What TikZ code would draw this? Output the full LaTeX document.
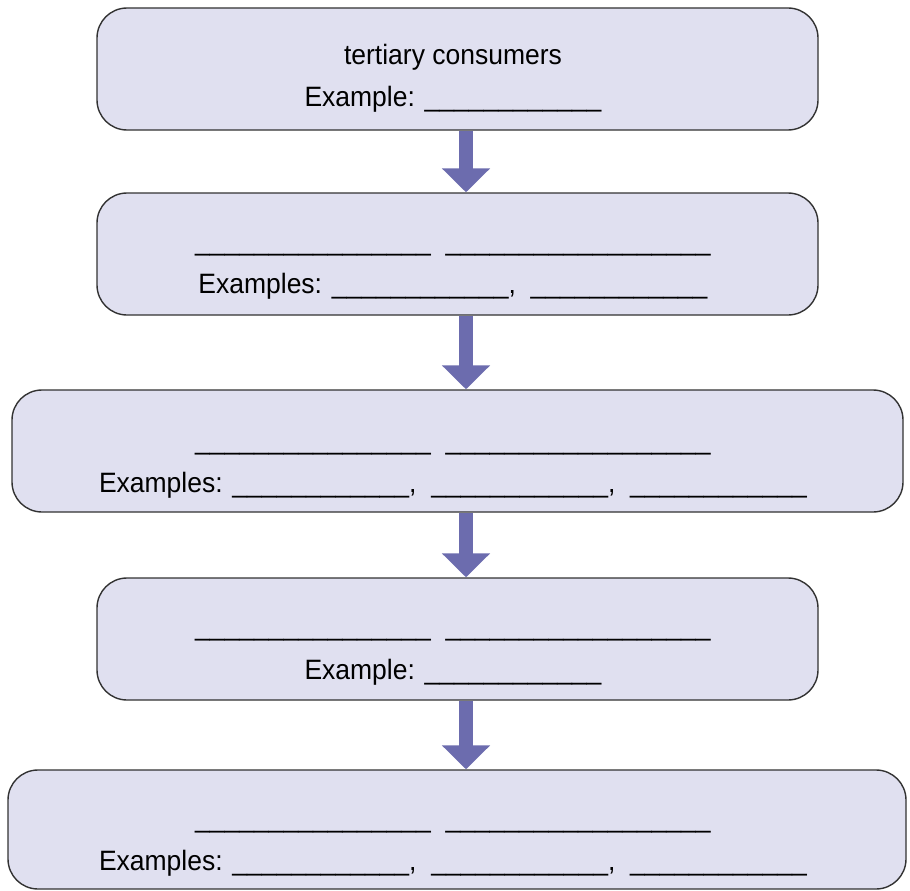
\documentclass[tikz,border=0pt]{standalone}
\usepackage{fontspec}
\setmainfont{Liberation Sans}[FakeStretch=0.946]
\usetikzlibrary{arrows.meta}
\definecolor{boxfill}{RGB}{224,224,240}
\definecolor{boxline}{RGB}{50,50,50}
\definecolor{arrowc}{RGB}{108,108,174}
\newcommand{\blankN}[1]{\foreach \i in {1,...,#1}{\_}}
\begin{document}
\begin{tikzpicture}[x=1pt,y=-1pt,
  stagebox/.style={draw=boxline,line width=1.4pt,fill=boxfill,rounded corners=30pt,inner sep=0pt},
  lbl/.style={anchor=base,inner sep=0pt,font=\fontsize{28}{32}\selectfont},
  flowarrow/.style={draw=arrowc,line width=14pt,-{Triangle[width=47pt,length=24pt]}}]
\useasboundingbox (0,0) rectangle (910,891);
% boxes
\node[stagebox,minimum width=721pt,minimum height=122pt] (b1) at (457.5,69) {};
\node[stagebox,minimum width=721pt,minimum height=122pt] (b2) at (457.5,254) {};
\node[stagebox,minimum width=891pt,minimum height=122pt] (b3) at (457.5,451) {};
\node[stagebox,minimum width=721pt,minimum height=122pt] (b4) at (457.5,639) {};
\node[stagebox,minimum width=898pt,minimum height=119pt] (b5) at (457,829.5) {};
% arrows
\coordinate (ax) at (466,0);
\draw[flowarrow] (b1.south -| ax) -- (b2.north -| ax);
\draw[flowarrow] (b2.south -| ax) -- (b3.north -| ax);
\draw[flowarrow] (b3.south -| ax) -- (b4.north -| ax);
\draw[flowarrow] (b4.south -| ax) -- (b5.north -| ax);
% texts
\node[lbl] (t1a) at (453,64) {tertiary consumers};
\node[lbl] (t1b) at (453,106) {Example: \blankN{12}};
\node[lbl] (t2a) at (453,250) {\blankN{16}\ \ \blankN{18}};
\node[lbl] (t2b) at (453,293) {Examples: \blankN{12},\ \ \blankN{12}};
\node[lbl] (t3a) at (453,449) {\blankN{16}\ \ \blankN{18}};
\node[lbl] (t3b) at (453,492) {Examples: \blankN{12},\ \ \blankN{12},\ \ \blankN{12}};
\node[lbl] (t4a) at (453,635) {\blankN{16}\ \ \blankN{18}};
\node[lbl] (t4b) at (453,679) {Example: \blankN{12}};
\node[lbl] (t5a) at (453,827) {\blankN{16}\ \ \blankN{18}};
\node[lbl] (t5b) at (453,870) {Examples: \blankN{12},\ \ \blankN{12},\ \ \blankN{12}};
\end{tikzpicture}
\end{document}
